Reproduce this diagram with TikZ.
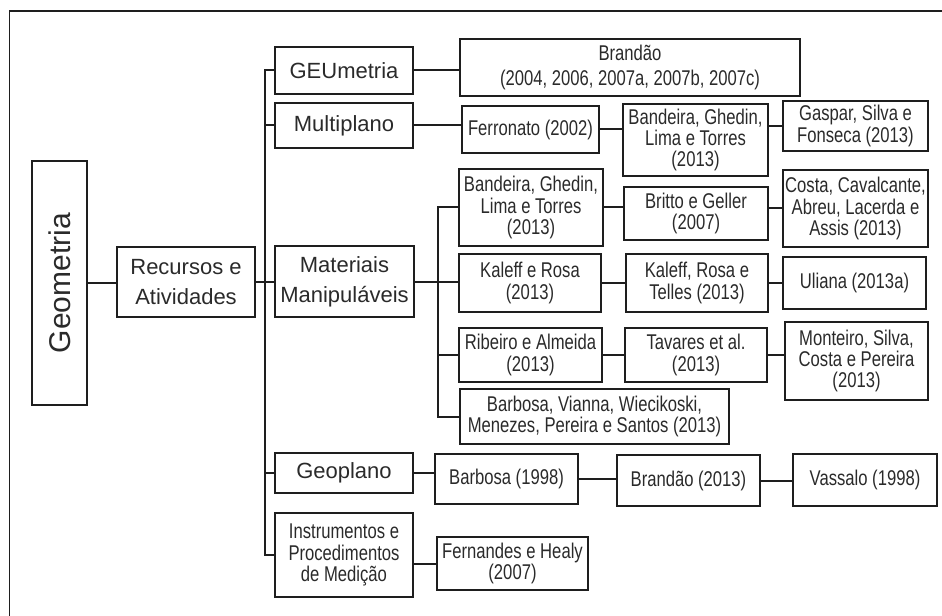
\documentclass[tikz,border=0pt]{standalone}
\usepackage{fontspec}
\setmainfont{Liberation Sans}
\newfontfamily\narrowfont[FakeStretch=0.78]{Liberation Sans}
\definecolor{ln}{HTML}{1E1E1E}
\definecolor{tx}{HTML}{2A2A2A}
\begin{document}
\begin{tikzpicture}[x=0.75pt,y=-0.75pt,
  bx/.style 2 args={draw=ln,line width=1.5pt,text=tx,align=center,inner sep=0pt,
    minimum width=#1*0.75pt,minimum height=#2*0.75pt},
  mainf/.style={font=\fontsize{16.5}{22.5}\selectfont},
  reff/.style={font=\narrowfont\fontsize{16}{16}\selectfont},
  conn/.style={draw=ln,line width=1.5pt}]
\useasboundingbox (0,0) rectangle (942,616);
\clip (0,0) rectangle (942,616);
\draw[ln,line width=1.3pt] (9.5,640) -- (9.5,11) -- (943,11) -- (943,640);

% level 0/1
\node[bx={55}{244}] (geom) at (59.5,283) {};
\node[rotate=90,text=tx,font=\fontsize{22.5}{26}\selectfont] (geomt) at (geom.center) {Geometria};
\node[bx={138}{70},mainf] (rec) at (186,282) {Recursos e\\Atividades};

% level 2
\node[bx={138}{47},mainf] (geu) at (344,70.5) {GEUmetria};
\node[bx={138}{45},mainf] (multi) at (344,125.5) {Multiplano};
\node[bx={139}{71},mainf] (mat) at (344.5,282) {Materiais\\Manipuláveis};
\node[bx={138}{40},mainf] (geo) at (344,473) {Geoplano};
\node[bx={138}{84},reff] (inst) at (344,555) {Instrumentos e\\Procedimentos\\de Medição};

% references
\node[bx={340}{57},reff,font=\narrowfont\fontsize{16}{18.5}\selectfont] (brand) at (630,67.5) {Brandão\\(2004, 2006, 2007a, 2007b, 2007c)};
\node[bx={137}{47},reff] (ferr) at (530.5,129.5) {Ferronato (2002)};
\node[bx={145}{72},reff] (band1) at (695.5,140) {Bandeira, Ghedin,\\Lima e Torres\\(2013)};
\node[bx={145}{50},reff] (gasp) at (855.5,126) {Gaspar, Silva e\\Fonseca (2013)};

\node[bx={144}{77},reff] (band2) at (531,207.5) {Bandeira, Ghedin,\\Lima e Torres\\(2013)};
\node[bx={144}{53},reff] (britto) at (696,213.5) {Britto e Geller\\(2007)};
\node[bx={145}{77},reff] (costa) at (855.5,208.5) {Costa, Cavalcante,\\Abreu, Lacerda e\\Assis (2013)};

\node[bx={142}{58},reff] (kal) at (530,283) {Kaleff e Rosa\\(2013)};
\node[bx={142}{58},reff] (krt) at (697,283) {Kaleff, Rosa e\\Telles (2013)};
\node[bx={143}{52},reff] (uli) at (854.5,283) {Uliana (2013a)};

\node[bx={143}{54},reff] (rib) at (530.5,355) {Ribeiro e Almeida\\(2013)};
\node[bx={142}{54},reff] (tav) at (696,355) {Tavares et al.\\(2013)};
\node[bx={143}{78},reff] (mont) at (856.5,361) {Monteiro, Silva,\\Costa e Pereira\\(2013)};

\node[bx={269}{55},reff] (barv) at (594.5,416.5) {Barbosa, Vianna, Wiecikoski,\\Menezes, Pereira e Santos (2013)};

\node[bx={143}{50},reff] (bar98) at (506.5,479) {Barbosa (1998)};
\node[bx={143}{51},reff] (br13) at (688.5,480.5) {Brandão (2013)};
\node[bx={144}{52},reff] (vas) at (865,480) {Vassalo (1998)};

\node[bx={151}{53},reff] (fern) at (512.5,563.5) {Fernandes e Healy\\(2007)};

% connectors
\coordinate (tk) at (265,0);
\coordinate (stk) at (438,0);
\draw[conn] (geom.east) -- (geom.east -| rec.west);
\draw[conn] (rec.east) -- (mat.west);
\draw[conn] (geu.west) -| (tk |- inst.west) -- (inst.west);
\draw[conn] (multi.west) -- (multi.west -| tk);
\draw[conn] (geo.west) -- (geo.west -| tk);

\draw[conn] (geu.east) -- (geu.east -| brand.west);
\draw[conn] (multi.east) -- (multi.east -| ferr.west);
\draw[conn] (ferr.east) -- (ferr.east -| band1.west);
\draw[conn] (band1.east |- gasp.west) -- (gasp.west);

\draw[conn] (mat.east) -- (mat.east -| kal.west);
\draw[conn] (band2.west) -| (stk |- barv.west) -- (barv.west);
\draw[conn] (rib.west) -- (rib.west -| stk);
\draw[conn] (band2.east) -- (band2.east -| britto.west);
\draw[conn] (britto.east |- costa.west) -- (costa.west);
\draw[conn] (kal.east) -- (krt.west);
\draw[conn] (krt.east) -- (uli.west);
\draw[conn] (rib.east) -- (tav.west);
\draw[conn] (tav.east) -- (tav.east -| mont.west);

\draw[conn] (geo.east) -- (geo.east -| bar98.west);
\draw[conn] (bar98.east) -- (bar98.east -| br13.west);
\draw[conn] (br13.east) -- (br13.east -| vas.west);
\draw[conn] (fern.west -| inst.east) -- (fern.west);
\end{tikzpicture}
\end{document}
